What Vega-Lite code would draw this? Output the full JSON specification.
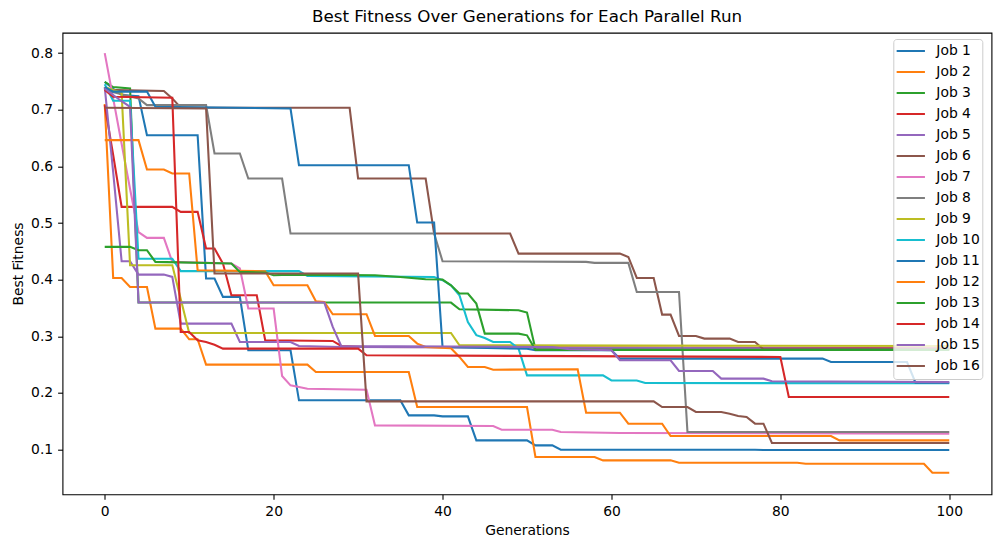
{
  "$schema": "https://vega.github.io/schema/vega-lite/v6.json",
  "autosize": {"type": "none"},
  "padding": {"left": 62.5, "top": 32.7, "right": 10, "bottom": 52},
  "width": 929,
  "height": 461.6,
  "background": "white",
  "title": {"text": "Best Fitness Over Generations for Each Parallel Run", "font": "DejaVu Sans", "fontSize": 16.7, "fontWeight": "normal", "color": "black", "offset": 7},
  "config": {
    "font": "DejaVu Sans",
    "view": {"stroke": "black", "strokeWidth": 1.1},
    "axis": {"grid": false, "domain": false, "tickColor": "black", "tickWidth": 1.1, "tickSize": 4.9, "labelPadding": 4.9, "labelFont": "DejaVu Sans", "labelFontSize": 13.9, "labelColor": "black", "titleFont": "DejaVu Sans", "titleFontSize": 13.9, "titleFontWeight": "normal", "titleColor": "black", "titlePadding": 5.6},
    "legend": {"orient": "none", "legendX": 830.8, "legendY": 6.3, "symbolType": "stroke", "symbolStrokeWidth": 2.1, "symbolSize": 800, "clipHeight": 20.1, "labelFont": "DejaVu Sans", "labelFontSize": 13.9, "labelColor": "black", "strokeColor": "#cccccc", "fillColor": "rgba(255,255,255,0.8)", "cornerRadius": 3, "padding": 2, "rowPadding": 0, "labelOffset": 10}
  },
  "data": {"values": [
    {"job":"Job 1","g":0,"v":0.749},{"job":"Job 1","g":1,"v":0.737},{"job":"Job 1","g":2,"v":0.726},{"job":"Job 1","g":4,"v":0.724},{"job":"Job 1","g":5,"v":0.655},{"job":"Job 1","g":11,"v":0.655},{"job":"Job 1","g":12,"v":0.402},{"job":"Job 1","g":13,"v":0.402},{"job":"Job 1","g":14,"v":0.3695},{"job":"Job 1","g":16,"v":0.3695},{"job":"Job 1","g":17,"v":0.2752},{"job":"Job 1","g":22,"v":0.2752},{"job":"Job 1","g":23,"v":0.1869},{"job":"Job 1","g":35,"v":0.1869},{"job":"Job 1","g":36,"v":0.1604},{"job":"Job 1","g":39,"v":0.1604},{"job":"Job 1","g":40,"v":0.1586},{"job":"Job 1","g":43,"v":0.1586},{"job":"Job 1","g":44,"v":0.1162},{"job":"Job 1","g":50,"v":0.1162},{"job":"Job 1","g":51,"v":0.1074},{"job":"Job 1","g":53,"v":0.1074},{"job":"Job 1","g":54,"v":0.0997},{"job":"Job 1","g":77,"v":0.0997},{"job":"Job 1","g":78,"v":0.0991},{"job":"Job 1","g":100,"v":0.0991},
    {"job":"Job 2","g":0,"v":0.71},{"job":"Job 2","g":1,"v":0.403},{"job":"Job 2","g":2,"v":0.403},{"job":"Job 2","g":3,"v":0.387},{"job":"Job 2","g":5,"v":0.387},{"job":"Job 2","g":6,"v":0.3135},{"job":"Job 2","g":9,"v":0.3135},{"job":"Job 2","g":10,"v":0.2947},{"job":"Job 2","g":11,"v":0.2947},{"job":"Job 2","g":12,"v":0.2499},{"job":"Job 2","g":24,"v":0.2499},{"job":"Job 2","g":25,"v":0.237},{"job":"Job 2","g":36,"v":0.237},{"job":"Job 2","g":37,"v":0.1751},{"job":"Job 2","g":50,"v":0.1751},{"job":"Job 2","g":51,"v":0.0868},{"job":"Job 2","g":58,"v":0.0868},{"job":"Job 2","g":59,"v":0.0809},{"job":"Job 2","g":67,"v":0.0809},{"job":"Job 2","g":68,"v":0.0768},{"job":"Job 2","g":82,"v":0.0768},{"job":"Job 2","g":83,"v":0.075},{"job":"Job 2","g":97,"v":0.075},{"job":"Job 2","g":98,"v":0.0591},{"job":"Job 2","g":100,"v":0.0591},
    {"job":"Job 3","g":0,"v":0.749},{"job":"Job 3","g":1,"v":0.74},{"job":"Job 3","g":3,"v":0.7376},{"job":"Job 3","g":4,"v":0.3595},{"job":"Job 3","g":41,"v":0.3595},{"job":"Job 3","g":42,"v":0.3477},{"job":"Job 3","g":49,"v":0.346},{"job":"Job 3","g":50,"v":0.3418},{"job":"Job 3","g":51,"v":0.277},{"job":"Job 3","g":100,"v":0.277},
    {"job":"Job 4","g":0,"v":0.708},{"job":"Job 4","g":1,"v":0.62},{"job":"Job 4","g":2,"v":0.5285},{"job":"Job 4","g":8,"v":0.5285},{"job":"Job 4","g":9,"v":0.5197},{"job":"Job 4","g":11,"v":0.5197},{"job":"Job 4","g":12,"v":0.4549},{"job":"Job 4","g":13,"v":0.4549},{"job":"Job 4","g":14,"v":0.4284},{"job":"Job 4","g":15,"v":0.3724},{"job":"Job 4","g":18,"v":0.3724},{"job":"Job 4","g":19,"v":0.2929},{"job":"Job 4","g":27,"v":0.2917},{"job":"Job 4","g":28,"v":0.2829},{"job":"Job 4","g":31,"v":0.2811},{"job":"Job 4","g":100,"v":0.279},
    {"job":"Job 5","g":0,"v":0.74},{"job":"Job 5","g":1,"v":0.59},{"job":"Job 5","g":2,"v":0.4325},{"job":"Job 5","g":3,"v":0.4325},{"job":"Job 5","g":4,"v":0.4089},{"job":"Job 5","g":7,"v":0.4089},{"job":"Job 5","g":8,"v":0.4048},{"job":"Job 5","g":9,"v":0.3224},{"job":"Job 5","g":15,"v":0.3224},{"job":"Job 5","g":16,"v":0.29},{"job":"Job 5","g":22,"v":0.29},{"job":"Job 5","g":23,"v":0.2829},{"job":"Job 5","g":28,"v":0.281},{"job":"Job 5","g":100,"v":0.278},
    {"job":"Job 6","g":0,"v":0.735},{"job":"Job 6","g":7,"v":0.733},{"job":"Job 6","g":8,"v":0.72},{"job":"Job 6","g":9,"v":0.7034},{"job":"Job 6","g":29,"v":0.7034},{"job":"Job 6","g":30,"v":0.5786},{"job":"Job 6","g":38,"v":0.5786},{"job":"Job 6","g":39,"v":0.4814},{"job":"Job 6","g":48,"v":0.4814},{"job":"Job 6","g":49,"v":0.446},{"job":"Job 6","g":61,"v":0.446},{"job":"Job 6","g":62,"v":0.44},{"job":"Job 6","g":63,"v":0.403},{"job":"Job 6","g":65,"v":0.403},{"job":"Job 6","g":66,"v":0.3383},{"job":"Job 6","g":67,"v":0.3383},{"job":"Job 6","g":68,"v":0.3006},{"job":"Job 6","g":70,"v":0.3006},{"job":"Job 6","g":71,"v":0.2959},{"job":"Job 6","g":74,"v":0.2959},{"job":"Job 6","g":75,"v":0.29},{"job":"Job 6","g":77,"v":0.29},{"job":"Job 6","g":78,"v":0.277},{"job":"Job 6","g":100,"v":0.277},
    {"job":"Job 7","g":0,"v":0.8},{"job":"Job 7","g":1,"v":0.72},{"job":"Job 7","g":2,"v":0.64},{"job":"Job 7","g":3,"v":0.56},{"job":"Job 7","g":4,"v":0.484},{"job":"Job 7","g":5,"v":0.4737},{"job":"Job 7","g":7,"v":0.4737},{"job":"Job 7","g":8,"v":0.4313},{"job":"Job 7","g":15,"v":0.4284},{"job":"Job 7","g":16,"v":0.42},{"job":"Job 7","g":17,"v":0.349},{"job":"Job 7","g":20,"v":0.349},{"job":"Job 7","g":21,"v":0.2299},{"job":"Job 7","g":22,"v":0.2134},{"job":"Job 7","g":23,"v":0.2105},{"job":"Job 7","g":24,"v":0.2075},{"job":"Job 7","g":31,"v":0.2057},{"job":"Job 7","g":32,"v":0.1427},{"job":"Job 7","g":46,"v":0.1415},{"job":"Job 7","g":47,"v":0.1351},{"job":"Job 7","g":53,"v":0.1351},{"job":"Job 7","g":54,"v":0.131},{"job":"Job 7","g":61,"v":0.1292},{"job":"Job 7","g":100,"v":0.128},
    {"job":"Job 8","g":0,"v":0.735},{"job":"Job 8","g":4,"v":0.7199},{"job":"Job 8","g":5,"v":0.7081},{"job":"Job 8","g":12,"v":0.7081},{"job":"Job 8","g":13,"v":0.6227},{"job":"Job 8","g":16,"v":0.6227},{"job":"Job 8","g":17,"v":0.5786},{"job":"Job 8","g":21,"v":0.5786},{"job":"Job 8","g":22,"v":0.4814},{"job":"Job 8","g":39,"v":0.4814},{"job":"Job 8","g":40,"v":0.4325},{"job":"Job 8","g":57,"v":0.4313},{"job":"Job 8","g":58,"v":0.4296},{"job":"Job 8","g":62,"v":0.4296},{"job":"Job 8","g":63,"v":0.3783},{"job":"Job 8","g":68,"v":0.3783},{"job":"Job 8","g":69,"v":0.131},{"job":"Job 8","g":100,"v":0.131},
    {"job":"Job 9","g":0,"v":0.74},{"job":"Job 9","g":1,"v":0.735},{"job":"Job 9","g":2,"v":0.73},{"job":"Job 9","g":3,"v":0.4254},{"job":"Job 9","g":8,"v":0.4254},{"job":"Job 9","g":9,"v":0.366},{"job":"Job 9","g":10,"v":0.3059},{"job":"Job 9","g":41,"v":0.3059},{"job":"Job 9","g":42,"v":0.2841},{"job":"Job 9","g":100,"v":0.2829},
    {"job":"Job 10","g":0,"v":0.745},{"job":"Job 10","g":1,"v":0.716},{"job":"Job 10","g":3,"v":0.716},{"job":"Job 10","g":4,"v":0.437},{"job":"Job 10","g":8,"v":0.437},{"job":"Job 10","g":9,"v":0.415},{"job":"Job 10","g":23,"v":0.415},{"job":"Job 10","g":24,"v":0.4066},{"job":"Job 10","g":39,"v":0.4048},{"job":"Job 10","g":40,"v":0.399},{"job":"Job 10","g":41,"v":0.39},{"job":"Job 10","g":42,"v":0.3724},{"job":"Job 10","g":43,"v":0.3253},{"job":"Job 10","g":44,"v":0.302},{"job":"Job 10","g":45,"v":0.297},{"job":"Job 10","g":46,"v":0.29},{"job":"Job 10","g":48,"v":0.29},{"job":"Job 10","g":49,"v":0.278},{"job":"Job 10","g":50,"v":0.231},{"job":"Job 10","g":59,"v":0.231},{"job":"Job 10","g":60,"v":0.222},{"job":"Job 10","g":63,"v":0.222},{"job":"Job 10","g":64,"v":0.2175},{"job":"Job 10","g":100,"v":0.217},
    {"job":"Job 11","g":0,"v":0.74},{"job":"Job 11","g":1,"v":0.732},{"job":"Job 11","g":5,"v":0.732},{"job":"Job 11","g":6,"v":0.7052},{"job":"Job 11","g":22,"v":0.7022},{"job":"Job 11","g":23,"v":0.6021},{"job":"Job 11","g":36,"v":0.6021},{"job":"Job 11","g":37,"v":0.5008},{"job":"Job 11","g":39,"v":0.5008},{"job":"Job 11","g":40,"v":0.2811},{"job":"Job 11","g":50,"v":0.278},{"job":"Job 11","g":51,"v":0.2753},{"job":"Job 11","g":60,"v":0.2753},{"job":"Job 11","g":61,"v":0.2605},{"job":"Job 11","g":85,"v":0.2605},{"job":"Job 11","g":86,"v":0.2546},{"job":"Job 11","g":95,"v":0.2546},{"job":"Job 11","g":96,"v":0.218},{"job":"Job 11","g":100,"v":0.218},
    {"job":"Job 12","g":0,"v":0.6463},{"job":"Job 12","g":4,"v":0.6463},{"job":"Job 12","g":5,"v":0.5945},{"job":"Job 12","g":7,"v":0.5945},{"job":"Job 12","g":8,"v":0.5874},{"job":"Job 12","g":10,"v":0.5874},{"job":"Job 12","g":11,"v":0.4166},{"job":"Job 12","g":19,"v":0.4148},{"job":"Job 12","g":20,"v":0.3901},{"job":"Job 12","g":24,"v":0.3901},{"job":"Job 12","g":25,"v":0.3618},{"job":"Job 12","g":26,"v":0.3607},{"job":"Job 12","g":27,"v":0.3389},{"job":"Job 12","g":31,"v":0.3389},{"job":"Job 12","g":32,"v":0.3006},{"job":"Job 12","g":36,"v":0.3006},{"job":"Job 12","g":37,"v":0.287},{"job":"Job 12","g":38,"v":0.281},{"job":"Job 12","g":41,"v":0.279},{"job":"Job 12","g":42,"v":0.2635},{"job":"Job 12","g":43,"v":0.2458},{"job":"Job 12","g":45,"v":0.2458},{"job":"Job 12","g":46,"v":0.241},{"job":"Job 12","g":56,"v":0.2417},{"job":"Job 12","g":57,"v":0.1651},{"job":"Job 12","g":61,"v":0.1651},{"job":"Job 12","g":62,"v":0.1457},{"job":"Job 12","g":66,"v":0.1457},{"job":"Job 12","g":67,"v":0.1239},{"job":"Job 12","g":86,"v":0.1239},{"job":"Job 12","g":87,"v":0.1162},{"job":"Job 12","g":100,"v":0.1162},
    {"job":"Job 13","g":0,"v":0.4578},{"job":"Job 13","g":3,"v":0.4578},{"job":"Job 13","g":4,"v":0.4519},{"job":"Job 13","g":5,"v":0.4519},{"job":"Job 13","g":6,"v":0.4313},{"job":"Job 13","g":15,"v":0.4284},{"job":"Job 13","g":16,"v":0.4137},{"job":"Job 13","g":19,"v":0.4125},{"job":"Job 13","g":20,"v":0.4078},{"job":"Job 13","g":22,"v":0.4089},{"job":"Job 13","g":32,"v":0.4078},{"job":"Job 13","g":35,"v":0.4048},{"job":"Job 13","g":38,"v":0.4007},{"job":"Job 13","g":40,"v":0.4001},{"job":"Job 13","g":41,"v":0.39},{"job":"Job 13","g":42,"v":0.3754},{"job":"Job 13","g":43,"v":0.3754},{"job":"Job 13","g":44,"v":0.3577},{"job":"Job 13","g":45,"v":0.3047},{"job":"Job 13","g":49,"v":0.3047},{"job":"Job 13","g":50,"v":0.3017},{"job":"Job 13","g":51,"v":0.276},{"job":"Job 13","g":100,"v":0.276},
    {"job":"Job 14","g":0,"v":0.735},{"job":"Job 14","g":1,"v":0.723},{"job":"Job 14","g":8,"v":0.721},{"job":"Job 14","g":9,"v":0.3076},{"job":"Job 14","g":10,"v":0.3076},{"job":"Job 14","g":11,"v":0.293},{"job":"Job 14","g":12,"v":0.29},{"job":"Job 14","g":13,"v":0.285},{"job":"Job 14","g":14,"v":0.2782},{"job":"Job 14","g":30,"v":0.2782},{"job":"Job 14","g":31,"v":0.2664},{"job":"Job 14","g":80,"v":0.2635},{"job":"Job 14","g":81,"v":0.1928},{"job":"Job 14","g":100,"v":0.1928},
    {"job":"Job 15","g":0,"v":0.737},{"job":"Job 15","g":1,"v":0.726},{"job":"Job 15","g":2,"v":0.715},{"job":"Job 15","g":3,"v":0.705},{"job":"Job 15","g":4,"v":0.3595},{"job":"Job 15","g":26,"v":0.3595},{"job":"Job 15","g":27,"v":0.3165},{"job":"Job 15","g":28,"v":0.2829},{"job":"Job 15","g":53,"v":0.2811},{"job":"Job 15","g":55,"v":0.277},{"job":"Job 15","g":60,"v":0.2753},{"job":"Job 15","g":61,"v":0.2576},{"job":"Job 15","g":67,"v":0.2576},{"job":"Job 15","g":68,"v":0.2387},{"job":"Job 15","g":72,"v":0.2387},{"job":"Job 15","g":73,"v":0.2252},{"job":"Job 15","g":78,"v":0.2252},{"job":"Job 15","g":79,"v":0.2205},{"job":"Job 15","g":100,"v":0.219},
    {"job":"Job 16","g":0,"v":0.7034},{"job":"Job 16","g":12,"v":0.7022},{"job":"Job 16","g":13,"v":0.4107},{"job":"Job 16","g":30,"v":0.4107},{"job":"Job 16","g":31,"v":0.1851},{"job":"Job 16","g":65,"v":0.1851},{"job":"Job 16","g":66,"v":0.1751},{"job":"Job 16","g":69,"v":0.1751},{"job":"Job 16","g":70,"v":0.1663},{"job":"Job 16","g":73,"v":0.1663},{"job":"Job 16","g":74,"v":0.1634},{"job":"Job 16","g":75,"v":0.1593},{"job":"Job 16","g":76,"v":0.1575},{"job":"Job 16","g":77,"v":0.1457},{"job":"Job 16","g":78,"v":0.1457},{"job":"Job 16","g":79,"v":0.1115},{"job":"Job 16","g":100,"v":0.1115}
  ]},
  "mark": {"type": "line", "strokeWidth": 2.08, "interpolate": "linear"},
  "encoding": {
    "x": {"field": "g", "type": "quantitative", "scale": {"domain": [-5, 105], "nice": false, "zero": false}, "axis": {"values": [0, 20, 40, 60, 80, 100], "format": "d", "title": "Generations"}},
    "y": {"field": "v", "type": "quantitative", "scale": {"domain": [0.021, 0.836], "nice": false, "zero": false}, "axis": {"values": [0.1, 0.2, 0.3, 0.4, 0.5, 0.6, 0.7, 0.8], "format": ".1f", "title": "Best Fitness"}},
    "color": {"field": "job", "type": "nominal", "title": null,
      "scale": {"domain": ["Job 1","Job 2","Job 3","Job 4","Job 5","Job 6","Job 7","Job 8","Job 9","Job 10","Job 11","Job 12","Job 13","Job 14","Job 15","Job 16"],
        "range": ["#1f77b4","#ff7f0e","#2ca02c","#d62728","#9467bd","#8c564b","#e377c2","#7f7f7f","#bcbd22","#17becf","#1f77b4","#ff7f0e","#2ca02c","#d62728","#9467bd","#8c564b"]}},
    "order": {"field": "g", "type": "quantitative"}
  }
}
